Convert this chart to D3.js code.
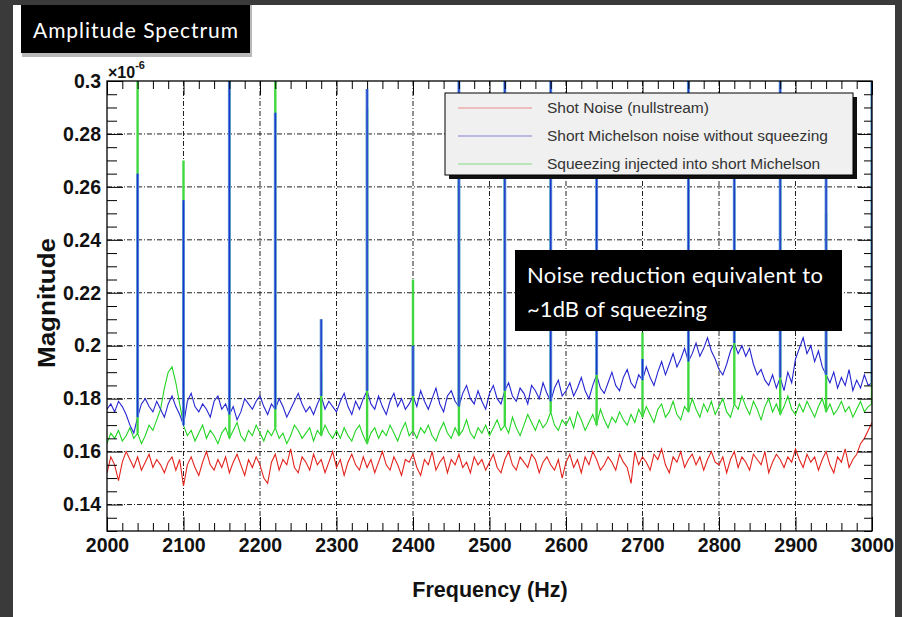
<!DOCTYPE html>
<html>
<head>
<meta charset="utf-8">
<script src="https://cdn.jsdelivr.net/npm/d3@7"></script>
<style>
  body { margin: 0; background: #fff; }
  svg { display: block; }
</style>
</head>
<body>
<svg id="chart" width="902" height="617"></svg>
<script>

// noise floor sampled every 5 Hz, values in units of 1e-9 (axis shows x10^-6)
var freqs = d3.range(2000, 3001, 5);

var shotNoise = [
  152,158,155,149,156,160,157,154,158,153,156,159,154,157,155,152,156,158,153,157,
  147,155,158,154,151,156,160,155,153,157,154,158,152,156,159,155,151,157,154,158,
  155,150,148,156,159,153,157,155,161,154,152,158,156,153,159,155,157,152,156,160,
  154,157,151,156,159,155,153,158,154,157,152,156,160,155,153,158,155,151,157,156,
  159,154,151,157,155,160,153,156,158,152,157,155,159,154,156,152,158,155,157,153,
  156,159,154,152,157,160,155,153,158,156,154,159,157,152,156,158,155,153,157,150,
  156,159,154,157,152,158,155,160,157,153,155,158,156,153,159,156,154,148,160,155,
  158,156,153,159,157,161,155,152,158,156,160,154,157,159,155,158,153,157,160,156,
  155,158,152,157,160,154,158,156,153,159,157,155,160,152,156,159,157,154,158,156,
  161,157,154,159,156,158,153,157,160,155,152,158,156,161,154,157,159,163,165,168,
  171
];

var michelsonNoise = [
  176,178,175,179,177,174,170,167,173,178,180,177,175,179,176,173,178,181,177,174,
  170,179,182,177,175,178,176,173,179,181,176,178,174,177,172,175,180,178,176,179,
  181,177,174,178,176,180,177,173,176,179,182,178,175,177,174,178,181,176,179,177,
  175,179,182,177,174,179,176,180,183,178,176,181,177,174,179,182,177,180,176,178,
  181,177,183,179,176,180,184,178,175,181,183,179,177,182,185,180,178,183,179,176,
  182,185,180,178,183,186,181,179,184,182,178,185,183,180,186,182,179,184,187,181,
  183,186,181,184,188,183,180,185,189,184,182,186,190,185,183,188,191,186,184,189,
  187,192,188,185,190,194,189,193,197,192,195,199,194,197,201,196,199,203,198,195,
  191,189,193,198,201,197,200,196,199,193,189,191,187,185,189,184,188,183,190,186,
  195,199,203,197,200,194,198,192,189,186,190,184,188,185,191,183,187,184,189,185,
  186
];

var squeezedNoise = [
  163,167,165,168,164,166,169,165,167,163,166,170,168,172,176,184,190,192,186,178,
  170,166,168,164,167,170,165,168,166,163,167,169,165,168,171,166,164,168,166,170,
  167,164,168,166,169,165,167,163,166,170,168,165,167,169,164,168,166,170,167,165,
  168,165,169,166,164,168,170,166,163,167,169,165,168,166,170,167,164,168,171,166,
  168,165,169,167,170,166,164,168,171,167,165,169,166,168,172,167,165,169,167,170,
  166,169,172,168,170,167,173,169,166,170,174,171,168,172,169,171,175,170,168,172,
  170,173,169,175,172,168,171,174,170,176,172,169,173,171,175,172,170,174,171,176,
  173,177,174,171,176,178,173,175,179,174,172,177,175,180,176,173,178,175,179,174,
  177,180,175,173,178,176,181,177,174,179,176,172,177,180,175,178,174,177,181,176,
  174,178,175,179,176,173,177,180,175,178,174,176,179,175,177,173,176,179,175,177,
  178
];
var unit = 1e-3;

// 60 Hz harmonics, peak heights (1e-6); 0.31 means off the top of the frame
var spikeFreqs = [2040, 2100, 2160, 2220, 2280, 2340, 2400, 2460, 2520, 2580, 2640, 2700, 2760, 2820, 2880, 2940, 3000];
var michelsonPeaks = [0.265, 0.255, 0.31, 0.288, 0.21, 0.297, 0.2, 0.31, 0.31, 0.31, 0.28, 0.195, 0.31, 0.28, 0.31, 0.275, 0.31];
var squeezedPeaks  = [0.31, 0.27, 0.31, 0.31, 0.19, 0.29, 0.225, 0.29, 0.29, 0.29, 0.26, 0.205, 0.31, 0.26, 0.29, 0.25, 0.31];

var xTicks = [2000, 2100, 2200, 2300, 2400, 2500, 2600, 2700, 2800, 2900, 3000];
var yTicks = [0.14, 0.16, 0.18, 0.2, 0.22, 0.24, 0.26, 0.28, 0.3];

var legendLabels = ['Shot Noise (nullstream)', 'Short Michelson noise without squeezing', 'Squeezing injected into short Michelson'];
var title = 'Amplitude Spectrum';
var note = ['Noise reduction equivalent to', '~1dB of squeezing'];

var W = 902, H = 617;
var plot = {left: 107, right: 872, top: 81, bottom: 531};
var axisFont = '"Liberation Sans", Arial, sans-serif';
var slideFont = 'Lato, "Open Sans", sans-serif';

var x = d3.scaleLinear().domain([2000, 3000]).range([plot.left, plot.right]);
var y = d3.scaleLinear().domain([0.13, 0.3]).range([plot.bottom, plot.top]);

var svg = d3.select('#chart');

// slide background
svg.append('rect').attr('width', W).attr('height', H).attr('fill', '#3a3a3a');
svg.append('rect').attr('x', 13).attr('y', 5).attr('width', 882).attr('height', H - 5).attr('fill', '#fff');

// title box
svg.append('rect').attr('x', 22).attr('y', 5).attr('width', 230).attr('height', 52).attr('fill', '#888').attr('opacity', 0.6);
svg.append('rect').attr('x', 21).attr('y', 5).attr('width', 229).attr('height', 48).attr('fill', '#000');
svg.append('text')
  .text(title)
  .attr('x', 33).attr('y', 38)
  .attr('font-family', slideFont)
  .attr('font-size', '21px')
  .attr('textLength', 205)
  .attr('fill', '#fff');

// grid
var grid = svg.append('g').attr('stroke', '#222').attr('stroke-width', 1).attr('stroke-dasharray', '5,2,1,2');
grid.selectAll('.gx').data(xTicks.slice(1, -1)).enter().append('line')
  .attr('x1', function(d) { return x(d); }).attr('x2', function(d) { return x(d); })
  .attr('y1', plot.top).attr('y2', plot.bottom);
grid.selectAll('.gy').data(yTicks.slice(0, -1)).enter().append('line')
  .attr('x1', plot.left).attr('x2', plot.right)
  .attr('y1', function(d) { return y(d); }).attr('y2', function(d) { return y(d); });

// data
svg.append('clipPath').attr('id', 'clip').append('rect')
  .attr('x', plot.left).attr('y', plot.top)
  .attr('width', plot.right - plot.left).attr('height', plot.bottom - plot.top);
var data = svg.append('g').attr('clip-path', 'url(#clip)');

function toPoints(vals) {
  return vals.map(function(v, i) { return {f: freqs[i], v: v * unit}; });
}
var lineGen = d3.line()
  .x(function(d) { return x(d.f); })
  .y(function(d) { return y(d.v); });

function drawSpikes(peaks, vals, color, width) {
  data.append('g').selectAll('line').data(spikeFreqs).enter().append('line')
    .attr('x1', function(d) { return x(d); }).attr('x2', function(d) { return x(d); })
    .attr('y1', function(d) { return y(vals[freqs.indexOf(d)] * unit); })
    .attr('y2', function(d, i) { return y(peaks[i]); })
    .attr('stroke', color).attr('stroke-width', width);
}

data.append('path').attr('d', lineGen(toPoints(squeezedNoise)))
  .attr('fill', 'none').attr('stroke', '#22d422').attr('stroke-width', 1.1);
data.append('path').attr('d', lineGen(toPoints(shotNoise)))
  .attr('fill', 'none').attr('stroke', '#e2231d').attr('stroke-width', 1.1);
data.append('path').attr('d', lineGen(toPoints(michelsonNoise)))
  .attr('fill', 'none').attr('stroke', '#2626d0').attr('stroke-width', 1.1);

drawSpikes(squeezedPeaks, squeezedNoise, '#3fd83f', 2.4);
drawSpikes(michelsonPeaks, michelsonNoise, '#5b9bd8', 3);
drawSpikes(michelsonPeaks, michelsonNoise, '#1f33cc', 1.3);

// axes (ticks inside the frame, ROOT style)
var xMinor = d3.range(2000, 3001, 20).filter(function(d) { return d % 100 !== 0; });
var yMinor = d3.range(0.13, 0.3001, 0.005).filter(function(d) { return Math.abs(d * 50 - Math.round(d * 50)) > 1e-6; });

function styleAxis(g) {
  g.select('.domain').remove();
  g.selectAll('line').attr('stroke', '#000');
  g.selectAll('text')
    .attr('font-family', axisFont)
    .attr('font-weight', 'bold')
    .attr('font-size', '19.5px')
    .attr('fill', '#111');
}

svg.append('g').attr('transform', 'translate(0,' + plot.bottom + ')')
  .call(d3.axisBottom(x).tickValues(xTicks).tickSize(-14).tickSizeOuter(0).tickPadding(7).tickFormat(d3.format('d')))
  .call(styleAxis);
svg.append('g').attr('transform', 'translate(0,' + plot.bottom + ')')
  .call(d3.axisBottom(x).tickValues(xMinor).tickSize(-8).tickSizeOuter(0).tickFormat(''))
  .call(styleAxis);
svg.append('g').attr('transform', 'translate(0,' + plot.top + ')')
  .call(d3.axisTop(x).tickValues(xTicks).tickSize(-14).tickSizeOuter(0).tickFormat(''))
  .call(styleAxis);
svg.append('g').attr('transform', 'translate(0,' + plot.top + ')')
  .call(d3.axisTop(x).tickValues(xMinor).tickSize(-8).tickSizeOuter(0).tickFormat(''))
  .call(styleAxis);

svg.append('g').attr('transform', 'translate(' + plot.left + ',0)')
  .call(d3.axisLeft(y).tickValues(yTicks).tickSize(-16).tickSizeOuter(0).tickPadding(6)
    .tickFormat(function(d) { return String(+d.toFixed(2)); }))
  .call(styleAxis);
svg.append('g').attr('transform', 'translate(' + plot.left + ',0)')
  .call(d3.axisLeft(y).tickValues(yMinor).tickSize(-10).tickSizeOuter(0).tickFormat(''))
  .call(styleAxis);
svg.append('g').attr('transform', 'translate(' + plot.right + ',0)')
  .call(d3.axisRight(y).tickValues(yTicks).tickSize(-14).tickSizeOuter(0).tickFormat(''))
  .call(styleAxis);
svg.append('g').attr('transform', 'translate(' + plot.right + ',0)')
  .call(d3.axisRight(y).tickValues(yMinor).tickSize(-8).tickSizeOuter(0).tickFormat(''))
  .call(styleAxis);

// frame
svg.append('rect')
  .attr('x', plot.left).attr('y', plot.top)
  .attr('width', plot.right - plot.left).attr('height', plot.bottom - plot.top)
  .attr('fill', 'none').attr('stroke', '#000').attr('stroke-width', 1.3);

// exponent
var expo = svg.append('text')
  .attr('x', 108).attr('y', 78)
  .attr('font-family', axisFont).attr('font-weight', 'bold').attr('font-size', '16px').attr('fill', '#111');
expo.append('tspan').text('\u00d710');
expo.append('tspan').text('-6').attr('font-size', '11px').attr('dy', -9);

// axis titles
svg.append('text')
  .text('Frequency (Hz)')
  .attr('x', 490).attr('y', 597)
  .attr('text-anchor', 'middle')
  .attr('font-family', axisFont).attr('font-weight', 'bold').attr('font-size', '21.5px').attr('fill', '#111');
svg.append('text')
  .text('Magnitude')
  .attr('transform', 'translate(55,303) rotate(-90)')
  .attr('text-anchor', 'middle')
  .attr('font-family', axisFont).attr('font-weight', 'bold').attr('font-size', '23px')
  .attr('textLength', 130).attr('lengthAdjust', 'spacingAndGlyphs')
  .attr('fill', '#111');

// legend
var legend = svg.append('g');
legend.append('rect').attr('x', 449).attr('y', 97).attr('width', 408).attr('height', 82).attr('fill', '#111');
legend.append('rect').attr('x', 445).attr('y', 93).attr('width', 408).attr('height', 82)
  .attr('fill', '#f0f0f0').attr('stroke', '#000').attr('stroke-width', 1);
var legendColors = ['#ec8a8a', '#8080d0', '#80dc80'];
legendLabels.forEach(function(label, i) {
  var ly = 108 + i * 28;
  legend.append('line').attr('x1', 458).attr('x2', 532).attr('y1', ly).attr('y2', ly)
    .attr('stroke', legendColors[i]).attr('stroke-width', 1);
  legend.append('text').text(label)
    .attr('x', 547).attr('y', ly + 5)
    .attr('font-family', axisFont).attr('font-size', '15.5px').attr('fill', '#333');
});

// annotation
svg.append('rect').attr('x', 515).attr('y', 250).attr('width', 327).attr('height', 81).attr('fill', '#000');
svg.append('text').text(note[0])
  .attr('x', 527).attr('y', 283)
  .attr('font-family', slideFont).attr('font-size', '22px')
  .attr('textLength', 296).attr('fill', '#fff');
svg.append('text').text(note[1])
  .attr('x', 527).attr('y', 317)
  .attr('font-family', slideFont).attr('font-size', '22px')
  .attr('textLength', 180).attr('fill', '#fff');
</script>
</body>
</html>
